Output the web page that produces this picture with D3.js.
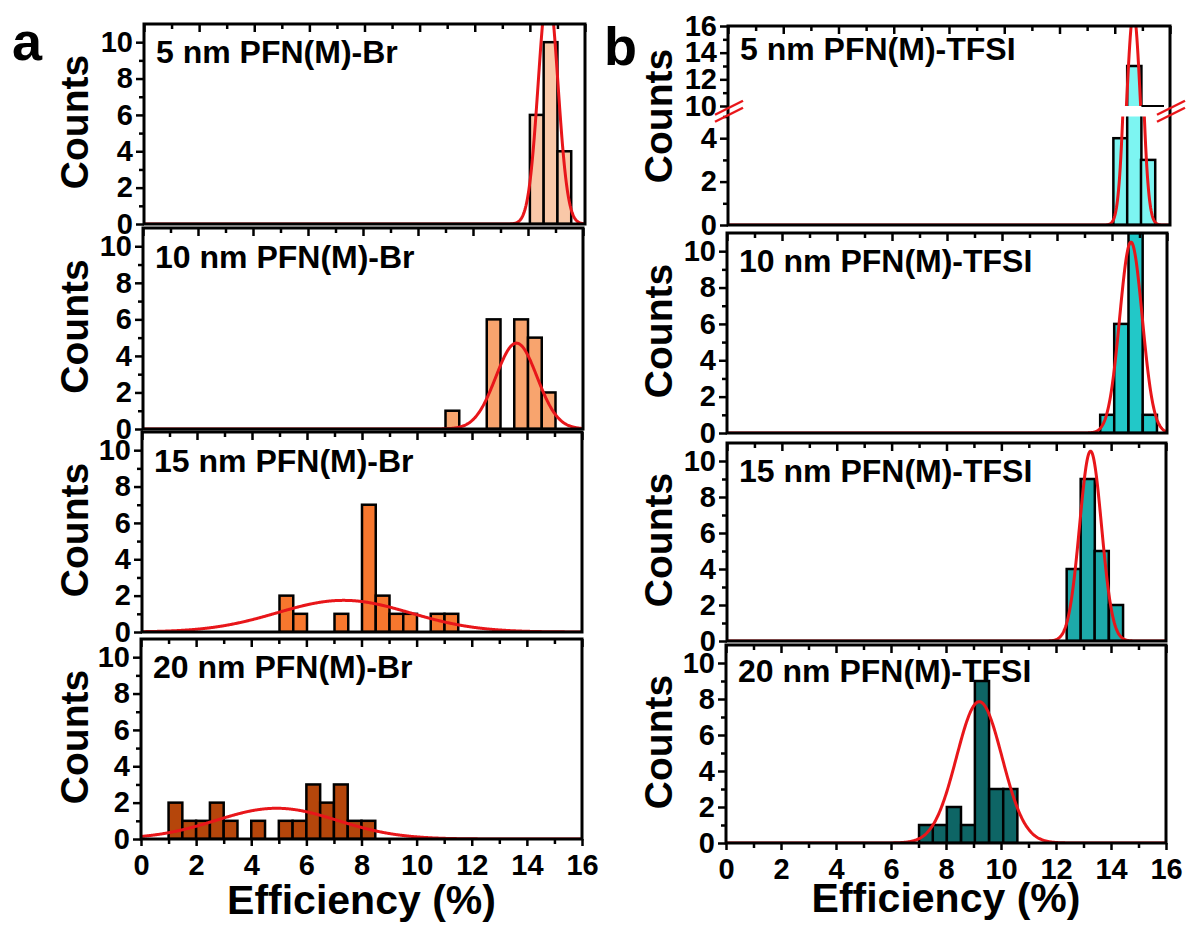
<!DOCTYPE html>
<html>
<head>
<meta charset="utf-8">
<script src="https://cdn.jsdelivr.net/npm/d3@7"></script>
<style>
  body { margin: 0; background: #fff; }
  svg { display: block; }
  text { font-family: "Liberation Sans", Arial, sans-serif; font-weight: bold; fill: #000; }
</style>
</head>
<body>
<svg id="chart" width="1189" height="929"></svg>
<script>
// ---- PFN(M)-Br series (panel a) ----
const brLabels = ["5 nm PFN(M)-Br", "10 nm PFN(M)-Br", "15 nm PFN(M)-Br", "20 nm PFN(M)-Br"];
const brBinStarts = [
  [14.0, 14.5, 15.0],
  [11.0, 12.5, 13.5, 14.0, 14.5],
  [5.0, 5.5, 7.0, 8.0, 8.5, 9.0, 9.5, 10.5, 11.0],
  [1.0, 1.5, 2.0, 2.5, 3.0, 4.0, 5.0, 5.5, 6.0, 6.5, 7.0, 7.5, 8.0]
];
const brCounts = [
  [6, 10, 4],
  [1, 6, 6, 5, 2],
  [2, 1, 1, 7, 2, 1, 1, 1, 1],
  [2, 1, 1, 2, 1, 1, 1, 1, 3, 2, 3, 1, 1]
];
const brBinWidth = 0.5;
const brFitCenter = [14.66, 13.58, 7.33, 4.92];
const brFitSigma = [0.355, 0.75, 2.42, 2.2];
const brFitAmp = [12.9, 4.7, 1.74, 1.69];
const brFills = ["#F9C8A8", "#F8A46E", "#F7772E", "#B5460B"];

// ---- PFN(M)-TFSI series (panel b) ----
const tfsiLabels = ["5 nm PFN(M)-TFSI", "10 nm PFN(M)-TFSI", "15 nm PFN(M)-TFSI", "20 nm PFN(M)-TFSI"];
const tfsiBinStarts = [
  [13.95, 14.45, 14.95],
  [13.57, 14.08, 14.6, 15.12],
  [12.38, 12.89, 13.4, 13.92],
  [7.02, 7.52, 8.03, 8.55, 9.05, 9.57, 10.08]
];
const tfsiCounts = [
  [4, 13, 3],
  [1, 6, 11, 1],
  [4, 9, 5, 2],
  [1, 1, 2, 1, 9, 3, 3]
];
const tfsiBinWidth = 0.515;
const tfsiFitCenter = [14.68, 14.69, 13.25, 9.21];
const tfsiFitSigma = [0.25, 0.41, 0.40, 0.83];
const tfsiFitAmp = [17, 10.5, 10.55, 7.85];
const tfsiFills = ["#7DF5F2", "#22C8C8", "#1DA9A9", "#0E6565"];

// ---- Axis ticks ----
const xDomain = [0, 16];
const xMajorTicks = [0, 2, 4, 6, 8, 10, 12, 14, 16];
const xMinorTicks = [1, 3, 5, 7, 9, 11, 13, 15];
const yDomain = [0, 11];
const yMajorTicks = [0, 2, 4, 6, 8, 10];
const yMinorTicks = [1, 3, 5, 7, 9];
// broken count axis of the 5 nm TFSI histogram
const yLowDomain = [0, 5];
const yHighDomain = [10, 16];
const yLowMajor = [0, 2, 4];
const yLowMinor = [1, 3, 5];
const yHighMajor = [10, 12, 14, 16];
const yHighMinor = [11, 13, 15];

// ---- Layout ----
const boxesA = [
  { l: 144, r: 585, t: 24, b: 224 },
  { l: 143, r: 583, t: 228, b: 429 },
  { l: 142, r: 582, t: 432, b: 632 },
  { l: 141, r: 582, t: 639, b: 839 }
];
const boxesB = [
  { l: 728, r: 1170, t: 26, b: 225 },
  { l: 727, r: 1167, t: 233, b: 433 },
  { l: 727, r: 1166, t: 443, b: 641 },
  { l: 726, r: 1166, t: 645, b: 843 }
];
const RED = "#E8161A";
const svg = d3.select("#chart");
const fitX = d3.range(0, 16.0001, 0.02);

function gauss(c, s, a) { return v => a * Math.exp(-((v - c) * (v - c)) / (2 * s * s)); }

function styleAxis(sel, fontSize) {
  sel.select(".domain").remove();
  sel.selectAll(".tick line").attr("stroke", "#000").attr("stroke-width", 2.5);
  sel.selectAll(".tick text").style("font-size", fontSize + "px")
     .style("font-family", '"Liberation Sans", Arial, sans-serif').style("font-weight", "bold");
  return sel;
}

let clipId = 0;
function addClip(x0, y0, w, h) {
  const id = "clip" + (clipId++);
  svg.append("clipPath").attr("id", id).append("rect")
     .attr("x", x0).attr("y", y0).attr("width", w).attr("height", h);
  return "url(#" + id + ")";
}

function drawTopTicks(g, x, box) {
  g.append("g").attr("transform", `translate(0,${box.t})`)
   .call(d3.axisBottom(x).tickValues(xMajorTicks).tickSize(8).tickFormat(""))
   .call(s => styleAxis(s, 0));
  g.append("g").attr("transform", `translate(0,${box.t})`)
   .call(d3.axisBottom(x).tickValues(xMinorTicks).tickSize(5).tickFormat(""))
   .call(s => styleAxis(s, 0));
}

function drawBottomAxis(g, x, box) {
  g.append("g").attr("transform", `translate(0,${box.b})`)
   .call(d3.axisBottom(x).tickValues(xMajorTicks).tickSize(7).tickPadding(8).tickFormat(d3.format("d")))
   .call(s => styleAxis(s, 29));
  g.append("g").attr("transform", `translate(0,${box.b})`)
   .call(d3.axisBottom(x).tickValues(xMinorTicks).tickSize(5).tickFormat(""))
   .call(s => styleAxis(s, 0));
}

function drawLeftAxis(g, y, box, major, minor) {
  g.append("g").attr("transform", `translate(${box.l},0)`)
   .call(d3.axisLeft(y).tickValues(major).tickSize(8).tickPadding(3).tickFormat(d3.format("d")))
   .call(s => styleAxis(s, 29));
  g.append("g").attr("transform", `translate(${box.l},0)`)
   .call(d3.axisLeft(y).tickValues(minor).tickSize(5).tickFormat(""))
   .call(s => styleAxis(s, 0));
}

function drawBars(g, x, y, starts, counts, width, fill, clip) {
  g.append("g").attr("clip-path", clip)
   .selectAll("rect").data(starts.map((s, i) => ({ s, c: counts[i] }))).join("rect")
   .attr("x", d => x(d.s)).attr("width", d => x(d.s + width) - x(d.s))
   .attr("y", d => y(d.c)).attr("height", d => y(0) - y(d.c))
   .attr("fill", fill).attr("stroke", "#000").attr("stroke-width", 2.5);
}

function drawFit(g, x, y, f, clip) {
  g.append("path").attr("clip-path", clip)
   .datum(fitX)
   .attr("d", d3.line().x(v => x(v)).y(v => y(f(v))))
   .attr("fill", "none").attr("stroke", RED).attr("stroke-width", 3);
}

function drawPanel(box, label, starts, counts, width, fill, fit, labelDy, isLast) {
  const g = svg.append("g");
  const x = d3.scaleLinear(xDomain, [box.l, box.r]);
  const y = d3.scaleLinear(yDomain, [box.b, box.t]);
  const clip = addClip(box.l, box.t, box.r - box.l, box.b - box.t);
  drawBars(g, x, y, starts, counts, width, fill, clip);
  drawFit(g, x, y, fit, clip);
  g.append("rect").attr("x", box.l).attr("y", box.t).attr("width", box.r - box.l).attr("height", box.b - box.t)
   .attr("fill", "none").attr("stroke", "#000").attr("stroke-width", 3);
  drawTopTicks(g, x, box);
  drawLeftAxis(g, y, box, yMajorTicks, yMinorTicks);
  if (isLast) drawBottomAxis(g, x, box);
  g.append("text").attr("x", box.l + 12).attr("y", box.t + labelDy).style("font-size", "32px").text(label);
}

// Panel a: PFN(M)-Br
const labelDyA = [39, 40, 40, 39];
boxesA.forEach((box, i) => {
  drawPanel(box, brLabels[i], brBinStarts[i], brCounts[i], brBinWidth, brFills[i],
            gauss(brFitCenter[i], brFitSigma[i], brFitAmp[i]), labelDyA[i], i === 3);
});

// Panel b: PFN(M)-TFSI, the thinnest film with a broken count axis
(function drawBrokenPanel() {
  const box = boxesB[0];
  const g = svg.append("g");
  const x = d3.scaleLinear(xDomain, [box.l, box.r]);
  const gapTop = 106, gapBottom = 116.5;
  const yLow = d3.scaleLinear(yLowDomain, [box.b, gapBottom]);
  const yHigh = d3.scaleLinear(yHighDomain, [gapTop, box.t]);
  const clipLow = addClip(box.l, gapBottom, box.r - box.l, box.b - gapBottom);
  const clipHigh = addClip(box.l, box.t, box.r - box.l, gapTop - box.t);
  const f = gauss(tfsiFitCenter[0], tfsiFitSigma[0], tfsiFitAmp[0]);
  const starts = tfsiBinStarts[0], counts = tfsiCounts[0], w = tfsiBinWidth;

  drawBars(g, x, yLow, starts, counts, w, tfsiFills[0], clipLow);
  // upper segment: only bins above the break, extended below the clip so no bottom edge shows
  g.append("g").attr("clip-path", clipHigh)
   .selectAll("rect").data(starts.map((s, i) => ({ s, c: counts[i] })).filter(d => d.c > yHighDomain[0])).join("rect")
   .attr("x", d => x(d.s)).attr("width", d => x(d.s + w) - x(d.s))
   .attr("y", d => yHigh(d.c)).attr("height", d => yHigh(yHighDomain[0] - 1) - yHigh(d.c))
   .attr("fill", tfsiFills[0]).attr("stroke", "#000").attr("stroke-width", 2.5);
  drawFit(g, x, yLow, f, clipLow);
  drawFit(g, x, yHigh, f, clipHigh);

  // lower edge of the upper segment, right of the tallest bin
  const iMax = counts.indexOf(d3.max(counts));
  g.append("line").attr("x1", x(starts[iMax] + w)).attr("x2", box.r - 6)
   .attr("y1", gapTop).attr("y2", gapTop).attr("stroke", "#000").attr("stroke-width", 2);

  g.append("rect").attr("x", box.l).attr("y", box.t).attr("width", box.r - box.l).attr("height", box.b - box.t)
   .attr("fill", "none").attr("stroke", "#000").attr("stroke-width", 3);
  drawTopTicks(g, x, box);
  drawLeftAxis(g, yLow, box, yLowMajor, yLowMinor);
  drawLeftAxis(g, yHigh, box, yHighMajor, yHighMinor);

  // break marks on both vertical borders
  const midY = (gapTop + gapBottom) / 2;
  [box.l + 1, box.r + 1].forEach(cx => {
    [-3.5, 3.5].forEach(off => {
      g.append("line").attr("x1", cx - 14).attr("y1", midY + off + 7).attr("x2", cx + 14).attr("y2", midY + off - 7)
       .attr("stroke", RED).attr("stroke-width", 2.5);
    });
  });
  g.append("text").attr("x", box.l + 12).attr("y", box.t + 34).style("font-size", "32px").text(tfsiLabels[0]);
})();

const labelDyB = [34, 39, 39, 37];
boxesB.forEach((box, i) => {
  if (i === 0) return;
  drawPanel(box, tfsiLabels[i], tfsiBinStarts[i], tfsiCounts[i], tfsiBinWidth, tfsiFills[i],
            gauss(tfsiFitCenter[i], tfsiFitSigma[i], tfsiFitAmp[i]), labelDyB[i], i === 3);
});

// ---- Axis titles and panel letters ----
boxesA.forEach((box, i) => {
  svg.append("text").attr("transform", `translate(88,${(box.t + box.b) / 2 - 2}) rotate(-90)`)
     .attr("text-anchor", "middle").style("font-size", "39px").text("Counts");
});
boxesB.forEach((box, i) => {
  const cy = i === 0 ? 116 : (box.t + box.b) / 2 - 2;
  svg.append("text").attr("transform", `translate(672,${cy}) rotate(-90)`)
     .attr("text-anchor", "middle").style("font-size", "39px").text("Counts");
});
svg.append("text").attr("x", (boxesA[3].l + boxesA[3].r) / 2).attr("y", 914)
   .attr("text-anchor", "middle").style("font-size", "41px").text("Efficiency (%)");
svg.append("text").attr("x", (boxesB[3].l + boxesB[3].r) / 2).attr("y", 912)
   .attr("text-anchor", "middle").style("font-size", "41px").text("Efficiency (%)");
svg.append("text").attr("x", 12).attr("y", 60).style("font-size", "54px").text("a");
svg.append("text").attr("x", 604).attr("y", 65).style("font-size", "54px").text("b");
</script>
</body>
</html>
